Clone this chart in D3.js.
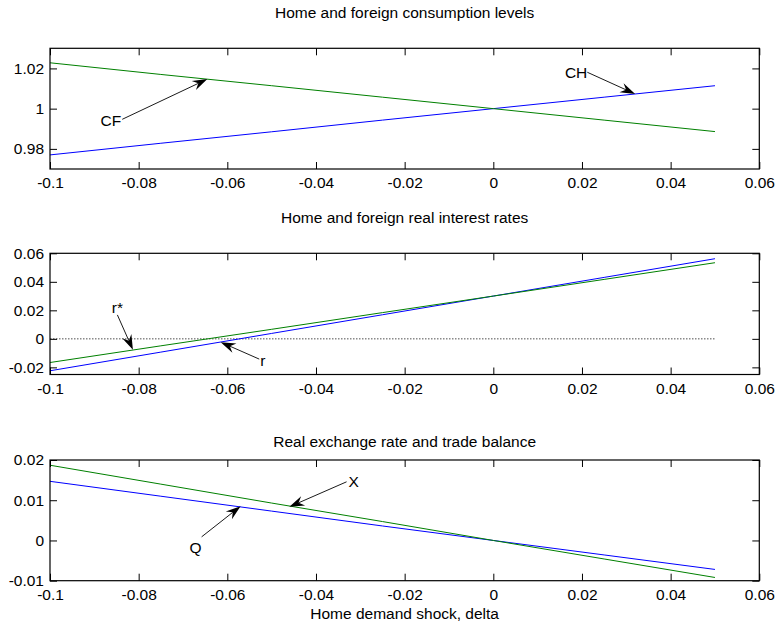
<!DOCTYPE html>
<html>
<head>
<meta charset="utf-8">
<script src="https://cdn.jsdelivr.net/npm/d3@7"></script>
<style>
  body { margin: 0; background: #fff; }
  svg { font-family: "Liberation Sans", Arial, Helvetica, sans-serif; }
</style>
</head>
<body>
<svg id="chart"></svg>
<script>
// Data
var delta = [-0.1, -0.075, -0.05, -0.025, 0, 0.025, 0.05];

var consHome    = [0.977, 0.9828, 0.9885, 0.9943, 1.0, 1.0057, 1.0114];   // CH
var consForeign = [1.0228, 1.017, 1.0114, 1.0057, 1.0, 0.9943, 0.9886];   // CF

var rateHome    = [-0.0224, -0.0093, 0.0038, 0.0169, 0.030, 0.0431, 0.0562]; // r
var rateForeign = [-0.0166, -0.0049, 0.0067, 0.0184, 0.030, 0.0417, 0.0534]; // r*

var realExch    = [0.0147, 0.0110, 0.0073, 0.0036, 0, -0.0036, -0.0072];   // Q
var tradeBal    = [0.0187, 0.0140, 0.0093, 0.0047, 0, -0.0046, -0.0092];   // X

var xTicks = [-0.1, -0.08, -0.06, -0.04, -0.02, 0, 0.02, 0.04, 0.06];
var xTickLabels = ["-0.1", "-0.08", "-0.06", "-0.04", "-0.02", "0", "0.02", "0.04", "0.06"];

var titles = ["Home and foreign consumption levels",
              "Home and foreign real interest rates",
              "Real exchange rate and trade balance"];

// annotations: label, tail [x,y], tip [x,y] in data units
var notes1 = [{t: "CF", tail: [-0.0837, 0.9947], tip: [-0.0645, 1.0147], anchor: "end", dx: -1, dy: 7},
              {t: "CH", tail: [0.0212, 1.0181], tip: [0.032, 1.0073], anchor: "end", dx: 0, dy: 6}];
var notes2 = [{t: "r*", tail: [-0.0848, 0.0168], tip: [-0.0813, -0.0077], anchor: "middle", dx: 0, dy: -2},
              {t: "r", tail: [-0.0528, -0.0142], tip: [-0.0615, -0.0023], anchor: "start", dx: 1, dy: 7}];
var notes3 = [{t: "X", tail: [-0.0331, 0.01458], tip: [-0.046, 0.00836], anchor: "start", dx: 2, dy: 5},
              {t: "Q", tail: [-0.0658, 0.0009], tip: [-0.057, 0.00853], anchor: "end", dx: 0, dy: 16}];

var panels = [
  {title: titles[0], titleY: 17.5, top: 48.3, bottom: 169, yDomain: [0.97, 1.03],
   yTicks: [0.98, 1, 1.02], yTickLabels: ["0.98", "1", "1.02"],
   series: [{v: consHome, c: "#0000ff"}, {v: consForeign, c: "#008000"}], notes: notes1},
  {title: titles[1], titleY: 222.5, top: 253.3, bottom: 374.5, yDomain: [-0.025, 0.06],
   yTicks: [-0.02, 0, 0.02, 0.04, 0.06], yTickLabels: ["-0.02", "0", "0.02", "0.04", "0.06"],
   series: [{v: rateHome, c: "#0000ff"}, {v: rateForeign, c: "#008000"}], notes: notes2, zeroLine: true},
  {title: titles[2], titleY: 447, top: 460, bottom: 580.7, yDomain: [-0.01, 0.02],
   yTicks: [-0.01, 0, 0.01, 0.02], yTickLabels: ["-0.01", "0", "0.01", "0.02"],
   series: [{v: realExch, c: "#0000ff"}, {v: tradeBal, c: "#008000"}], notes: notes3}
];

var width = 776, height = 626;
var left = 50, right = 759.3;
var tickLen = 7;
var fontSize = "15.5px";

var svg = d3.select("#chart").attr("width", width).attr("height", height);

var x = d3.scaleLinear().domain([-0.1, 0.06]).range([left, right]);

panels.forEach(function (p) {
  var y = d3.scaleLinear().domain(p.yDomain).range([p.bottom, p.top]);
  var g = svg.append("g");

  // title
  g.append("text")
    .attr("x", (left + right) / 2).attr("y", p.titleY)
    .attr("text-anchor", "middle").style("font-size", fontSize)
    .text(p.title);

  // zero reference line
  if (p.zeroLine) {
    g.append("line")
      .attr("x1", x(-0.1)).attr("x2", x(0.05))
      .attr("y1", y(0)).attr("y2", y(0))
      .attr("stroke", "#000").attr("stroke-width", 0.7)
      .attr("stroke-dasharray", "1.5,1.5");
  }

  // series lines
  var line = d3.line()
    .x(function (d, i) { return x(delta[i]); })
    .y(function (d) { return y(d); });
  p.series.forEach(function (s) {
    g.append("path").datum(s.v)
      .attr("d", line).attr("fill", "none")
      .attr("stroke", s.c).attr("stroke-width", 1);
  });

  // axes with inward ticks (matlab style), labels supplied as strings
  var bottomAxis = d3.axisBottom(x).tickValues(xTicks).tickSizeInner(-tickLen).tickSizeOuter(0)
    .tickPadding(tickLen + 1).tickFormat(function (d, i) { return xTickLabels[i]; });
  var topAxis = d3.axisTop(x).tickValues(xTicks).tickSizeInner(-tickLen).tickSizeOuter(0)
    .tickFormat("");
  var leftAxis = d3.axisLeft(y).tickValues(p.yTicks).tickSizeInner(-tickLen).tickSizeOuter(0)
    .tickPadding(6).tickFormat(function (d, i) { return p.yTickLabels[i]; });
  var rightAxis = d3.axisRight(y).tickValues(p.yTicks).tickSizeInner(-tickLen).tickSizeOuter(0)
    .tickFormat("");

  var axes = [
    g.append("g").attr("transform", "translate(0," + p.bottom + ")").call(bottomAxis),
    g.append("g").attr("transform", "translate(0," + p.top + ")").call(topAxis),
    g.append("g").attr("transform", "translate(" + left + ",0)").call(leftAxis),
    g.append("g").attr("transform", "translate(" + right + ",0)").call(rightAxis)
  ];
  axes.forEach(function (a) {
    a.select(".domain").remove();
    a.selectAll(".tick line").attr("stroke", "#000").attr("stroke-width", 1);
    a.selectAll(".tick text").attr("fill", "#000")
      .style("font-size", fontSize).style("font-family", "inherit");
  });

  // box
  g.append("rect")
    .attr("x", left).attr("y", p.top)
    .attr("width", right - left).attr("height", p.bottom - p.top)
    .attr("fill", "none").attr("stroke", "#000").attr("stroke-width", 1.2);

  // arrows with labels
  p.notes.forEach(function (n) {
    var x0 = x(n.tail[0]), y0 = y(n.tail[1]);
    var x1 = x(n.tip[0]), y1 = y(n.tip[1]);
    var ang = Math.atan2(y1 - y0, x1 - x0);
    var headLen = 15, headW = 5, notch = 10;
    var ux = Math.cos(ang), uy = Math.sin(ang);
    var px = -uy, py = ux;
    g.append("line")
      .attr("x1", x0).attr("y1", y0)
      .attr("x2", x1 - ux * notch).attr("y2", y1 - uy * notch)
      .attr("stroke", "#000").attr("stroke-width", 0.9);
    var head = [
      [x1, y1],
      [x1 - ux * headLen + px * headW, y1 - uy * headLen + py * headW],
      [x1 - ux * notch, y1 - uy * notch],
      [x1 - ux * headLen - px * headW, y1 - uy * headLen - py * headW]
    ];
    g.append("path")
      .attr("d", "M" + head.map(function (q) { return q.join(","); }).join("L") + "Z")
      .attr("fill", "#000");
    g.append("text")
      .attr("x", x0 + n.dx).attr("y", y0 + n.dy)
      .attr("text-anchor", n.anchor).style("font-size", fontSize)
      .text(n.t);
  });
});

// x axis label
svg.append("text")
  .attr("x", (left + right) / 2).attr("y", 619)
  .attr("text-anchor", "middle").style("font-size", fontSize)
  .text("Home demand shock, delta");
</script>
</body>
</html>
